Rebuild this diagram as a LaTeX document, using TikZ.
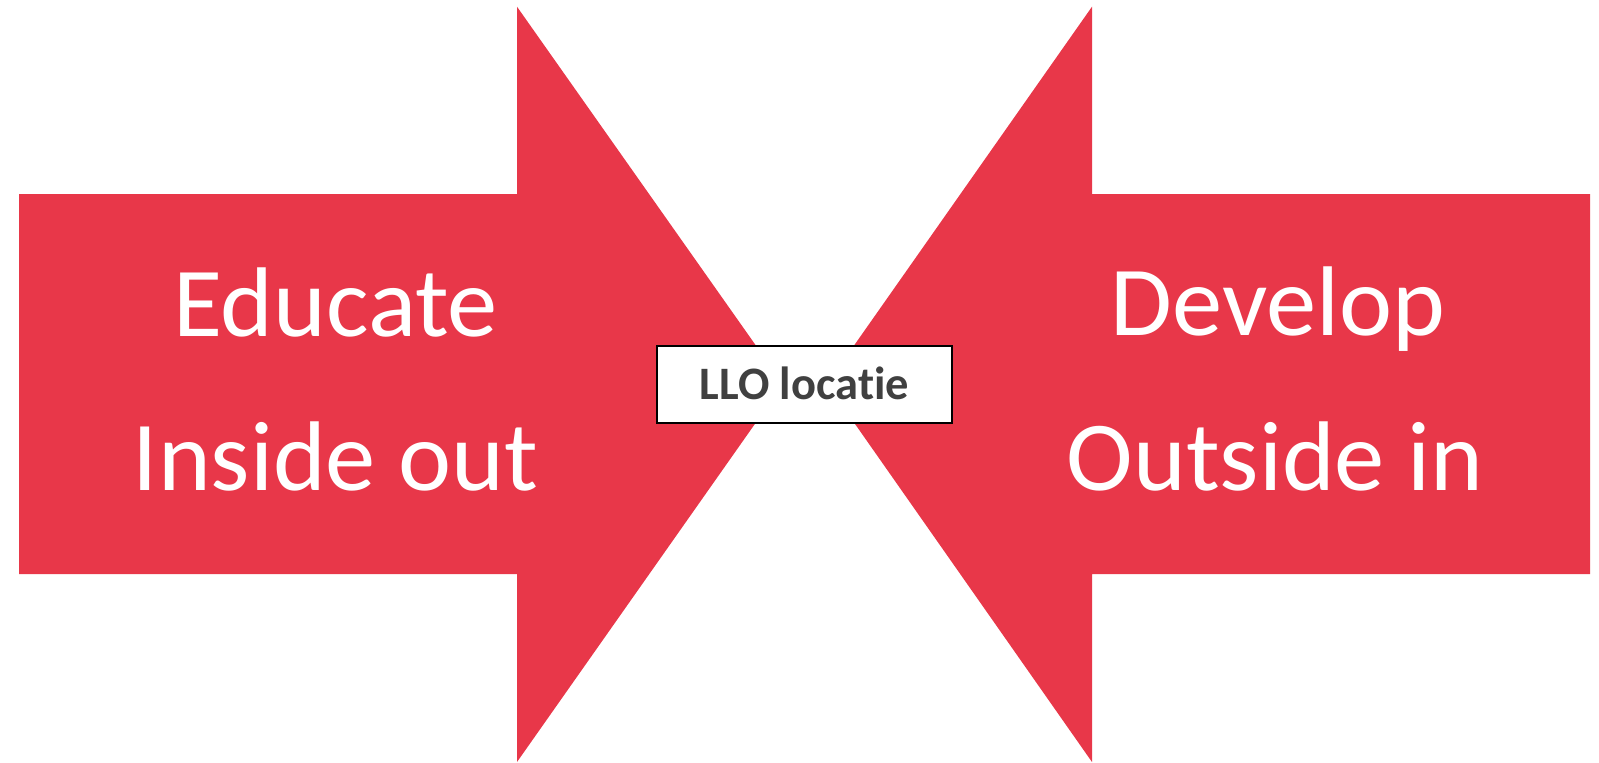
\documentclass[tikz,border=0pt]{standalone}
\usepackage{fontspec}
\setmainfont{Carlito}[Ligatures={NoCommon}]
\definecolor{arrowred}{RGB}{232,55,73}
\definecolor{boxtext}{RGB}{64,64,64}
\tikzset{
  bigarrow/.style={fill=arrowred, draw=none},
  bigtext/.style={text=white, anchor=base, inner sep=0pt, xscale=1.015, font=\fontsize{99}{118}\selectfont},
  labelbox/.style={draw=black, line width=1.2pt, fill=white, minimum width=295pt, minimum height=77pt, inner sep=0pt},
  labeltext/.style={text=boxtext, anchor=base, inner sep=0pt, font=\bfseries\fontsize{46.5}{56}\selectfont}
}
\begin{document}
\begin{tikzpicture}[x=1pt,y=-1pt]
\useasboundingbox (0,0) rectangle (1599,763);
% left arrow
\fill[bigarrow] (19,194) -- (517,194) -- (517,6.7) -- (783,384) -- (517,762) -- (517,574) -- (19,574) -- cycle;
% right arrow
\fill[bigarrow] (1590,194) -- (1092,194) -- (1092,6.7) -- (827,384) -- (1092,762) -- (1092,574) -- (1590,574) -- cycle;
\node[bigtext] (edu) at (335.6,336) {Educate};
\node[bigtext] (ins) at (335.5,490.7) {Inside out};
\node[bigtext] (dev) at (1278,335.5) {Develop};
\node[bigtext] (out) at (1275.3,490.7) {Outside in};
\node[labelbox] (llo) at (804.5,384.5) {};
\node[labeltext] (llotext) at (804.3,399.3) {LLO locatie};
\end{tikzpicture}
\end{document}
